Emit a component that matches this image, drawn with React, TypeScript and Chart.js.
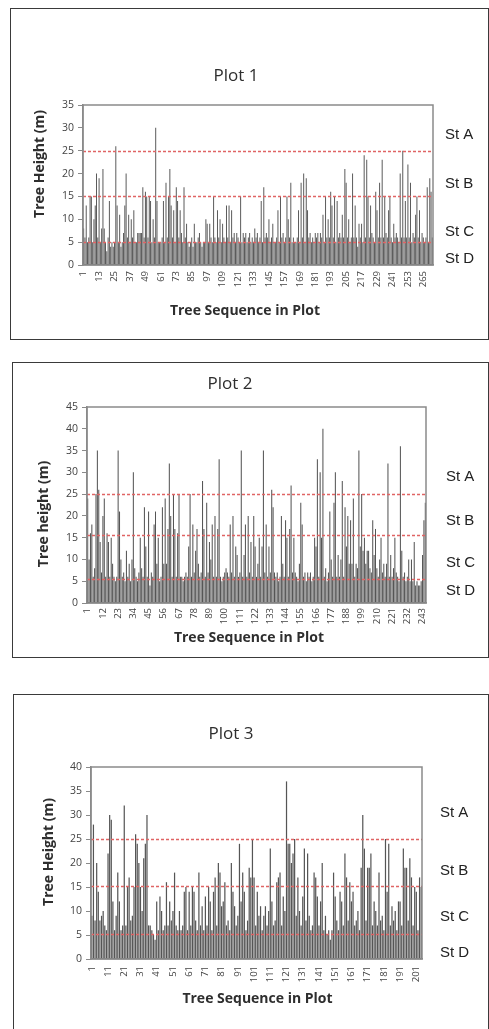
import React, { useEffect, useRef } from "react";
import { Chart, registerables } from "chart.js";

Chart.register(...registerables);

// ---------------- data (tree heights in metres) ----------------
const plot1Heights: number[] = [
  8, 6, 13, 5, 6, 15, 15, 5, 10, 13,
  20, 6, 19, 5, 8, 21, 8, 5, 3, 6,
  14, 4, 5, 4, 5, 26, 13, 5, 11, 4,
  5, 7, 13, 20, 6, 11, 5, 10, 6, 12,
  5, 5, 7, 7, 7, 7, 17, 6, 16, 15,
  6, 15, 14, 5, 10, 6, 30, 14, 5, 5,
  5, 6, 14, 5, 18, 6, 15, 21, 13, 6,
  12, 5, 17, 14, 6, 12, 7, 5, 17, 6,
  9, 5, 4, 5, 6, 4, 9, 5, 5, 6,
  7, 5, 4, 5, 5, 10, 9, 5, 9, 6,
  5, 15, 6, 5, 12, 6, 10, 5, 9, 6,
  5, 13, 6, 13, 5, 12, 6, 7, 5, 7,
  6, 5, 15, 5, 7, 6, 7, 5, 6, 7,
  5, 6, 5, 8, 6, 7, 5, 6, 14, 5,
  17, 6, 7, 6, 10, 5, 6, 9, 5, 5,
  6, 12, 5, 15, 6, 7, 5, 6, 15, 10,
  6, 18, 5, 6, 5, 5, 6, 12, 5, 18,
  6, 20, 5, 19, 12, 6, 7, 5, 6, 5,
  7, 6, 7, 5, 7, 6, 11, 5, 15, 6,
  10, 6, 16, 13, 6, 15, 5, 14, 6, 7,
  6, 11, 6, 21, 18, 6, 10, 5, 6, 20,
  6, 13, 6, 4, 9, 6, 9, 5, 24, 6,
  23, 15, 6, 13, 7, 6, 5, 16, 12, 6,
  18, 6, 23, 6, 15, 7, 6, 12, 15, 6,
  5, 9, 6, 7, 6, 5, 20, 6, 25, 6,
  14, 6, 22, 6, 18, 5, 7, 6, 11, 15,
  6, 12, 5, 7, 6, 5, 6, 17, 5, 19,
  16, 6,
];

const plot2Heights: number[] = [
  24, 10, 16, 18, 6, 8, 25, 35, 26, 14,
  7, 20, 24, 6, 16, 14, 6, 15, 9, 6,
  5, 6, 35, 21, 10, 6, 7, 5, 12, 6,
  9, 5, 10, 30, 8, 6, 5, 7, 15, 8,
  6, 22, 13, 6, 21, 4, 7, 6, 18, 21,
  9, 15, 5, 6, 22, 9, 24, 9, 17, 32,
  20, 6, 25, 17, 6, 16, 25, 6, 6, 5,
  6, 7, 6, 13, 25, 6, 18, 7, 12, 17,
  9, 6, 7, 28, 17, 6, 23, 7, 14, 10,
  18, 6, 20, 6, 17, 33, 6, 5, 6, 7,
  8, 7, 6, 18, 7, 20, 6, 13, 11, 6,
  7, 35, 6, 11, 18, 6, 20, 7, 14, 6,
  20, 13, 6, 9, 15, 6, 13, 35, 7, 18,
  6, 13, 7, 26, 22, 7, 6, 7, 5, 6,
  20, 9, 6, 19, 15, 6, 17, 27, 7, 15,
  7, 6, 5, 9, 23, 18, 6, 7, 5, 7,
  6, 7, 5, 6, 15, 13, 33, 6, 30, 15,
  40, 6, 8, 5, 7, 21, 10, 6, 23, 30,
  6, 11, 6, 10, 28, 6, 22, 13, 20, 9,
  19, 9, 24, 6, 9, 8, 35, 13, 25, 12,
  15, 9, 12, 12, 8, 7, 19, 11, 17, 8,
  6, 10, 15, 7, 9, 6, 9, 32, 6, 11,
  6, 8, 15, 7, 6, 5, 36, 12, 6, 7,
  5, 6, 10, 5, 10, 5, 14, 4, 5, 4,
  4, 5, 11, 19, 23,
];

const plot3Heights: number[] = [
  9, 28, 8, 20, 14, 8, 9, 10, 7, 6,
  22, 30, 29, 12, 6, 9, 18, 12, 6, 7,
  32, 7, 15, 17, 8, 9, 15, 26, 24, 20,
  15, 10, 21, 24, 30, 7, 7, 6, 5, 4,
  12, 6, 13, 10, 6, 7, 16, 7, 12, 8,
  10, 18, 7, 6, 10, 6, 7, 14, 15, 6,
  14, 7, 15, 14, 8, 6, 18, 7, 11, 6,
  13, 7, 15, 12, 6, 14, 17, 7, 20, 18,
  11, 12, 16, 7, 8, 6, 20, 14, 11, 7,
  9, 24, 12, 18, 14, 6, 8, 19, 17, 25,
  17, 7, 14, 9, 11, 6, 9, 11, 7, 10,
  23, 12, 7, 8, 16, 17, 18, 7, 13, 10,
  37, 24, 24, 20, 22, 25, 9, 17, 10, 7,
  13, 23, 8, 22, 9, 6, 7, 18, 17, 13,
  7, 12, 20, 6, 9, 5, 6, 4, 6, 18,
  13, 8, 6, 14, 12, 7, 22, 17, 8, 16,
  12, 14, 7, 8, 10, 6, 19, 30, 23, 8,
  19, 19, 22, 7, 12, 10, 7, 18, 8, 9,
  6, 25, 14, 24, 7, 11, 8, 10, 6, 12,
  12, 7, 23, 19, 19, 8, 21, 17, 7, 15,
  14, 6, 17, 15,
];

// tick label interval on the x axis
const plot1TickEvery = 12;
const plot2TickEvery = 11;
const plot3TickEvery = 10;

// y axis maxima
const plot1YMax = 35;
const plot2YMax = 45;
const plot3YMax = 40;

// stratum boundaries (dashed red lines), metres
const plot1Strata = [25, 15, 5];
const plot2Strata = [25, 15.6, 5.6];
const plot3Strata = [25, 15.2, 5.3];

// stratum names and the height at which each name sits
const strataLabels = ["St A", "St B", "St C", "St D"];
const plot1LabelAt = [28.4, 17.7, 7.2, 1.3];
const plot2LabelAt = [28.9, 18.8, 9.3, 2.9];
const plot3LabelAt = [30.5, 18.3, 8.8, 1.2];

// ---------------- layout ----------------
type Box = { left: number; top: number; width: number; height: number };
type PanelCfg = {
  title: string;
  yTitle: string;
  xTitle: string;
  heights: number[];
  tickEvery: number;
  yMax: number;
  strata: number[];
  labelAt: number[];
  box: Box;
  canvas: Box;
  area: { left: number; top: number; right: number; bottom: number };
  titlePos: [number, number];
  yTitlePos: [number, number];
  xTitlePos: [number, number];
  stX: number;
  tickPad: number;
};

const panels: PanelCfg[] = [
  {
    title: "Plot 1",
    yTitle: "Tree Height (m)",
    xTitle: "Tree Sequence in Plot",
    heights: plot1Heights,
    tickEvery: plot1TickEvery,
    yMax: plot1YMax,
    strata: plot1Strata,
    labelAt: plot1LabelAt,
    box: { left: 10, top: 8, width: 479, height: 332 },
    canvas: { left: 11, top: 9, width: 475, height: 330 },
    area: { left: 72, top: 96, right: 422, bottom: 256 },
    titlePos: [225, 67],
    yTitlePos: [29.5, 155],
    xTitlePos: [234, 302],
    stX: 434,
    tickPad: 6,
  },
  {
    title: "Plot 2",
    yTitle: "Tree height (m)",
    xTitle: "Tree Sequence in Plot",
    heights: plot2Heights,
    tickEvery: plot2TickEvery,
    yMax: plot2YMax,
    strata: plot2Strata,
    labelAt: plot2LabelAt,
    box: { left: 12, top: 362, width: 477, height: 296 },
    canvas: { left: 13, top: 363, width: 474, height: 294 },
    area: { left: 74, top: 44, right: 413, bottom: 240 },
    titlePos: [217, 21],
    yTitlePos: [31, 151],
    xTitlePos: [236, 275],
    stX: 433,
    tickPad: 5,
  },
  {
    title: "Plot 3",
    yTitle: "Tree Height (m)",
    xTitle: "Tree Sequence in Plot",
    heights: plot3Heights,
    tickEvery: plot3TickEvery,
    yMax: plot3YMax,
    strata: plot3Strata,
    labelAt: plot3LabelAt,
    box: { left: 13, top: 694, width: 476, height: 360 },
    canvas: { left: 14, top: 695, width: 473, height: 334 },
    area: { left: 77, top: 72, right: 408, bottom: 264 },
    titlePos: [217, 39],
    yTitlePos: [35.5, 157],
    xTitlePos: [243.5, 304],
    stX: 426,
    tickPad: 7,
  },
];

const FONT = "'Open Sans', 'DejaVu Sans', sans-serif";

function decorPlugin(cfg: PanelCfg) {
  return {
    id: "decor",
    afterDatasetsDraw(chart: any) {
      const { ctx, chartArea: a, scales } = chart;
      const y = scales.y;
      ctx.save();
      ctx.setLineDash([3, 2]);
      ctx.lineWidth = 1.6;
      ctx.strokeStyle = "#e06464";
      for (const t of cfg.strata) {
        const py = Math.round(y.getPixelForValue(t)) + 0.5;
        ctx.beginPath();
        ctx.moveTo(a.left, py);
        ctx.lineTo(a.right, py);
        ctx.stroke();
      }
      ctx.restore();
    },
    afterDraw(chart: any) {
      const { ctx, chartArea: a, scales } = chart;
      const y = scales.y;
      ctx.save();
      // plot area frame
      ctx.strokeStyle = "#8a8a8a";
      ctx.lineWidth = 1.5;
      ctx.strokeRect(a.left, a.top, a.right - a.left, a.bottom - a.top);

      ctx.fillStyle = "#2e2e2e";
      ctx.textAlign = "center";
      ctx.textBaseline = "middle";
      // title
      ctx.font = `400 17px ${FONT}`;
      ctx.fillText(cfg.title, cfg.titlePos[0], cfg.titlePos[1]);
      // x title
      ctx.font = `700 14px ${FONT}`;
      ctx.fillText(cfg.xTitle, cfg.xTitlePos[0], cfg.xTitlePos[1]);
      // y title
      ctx.save();
      ctx.translate(cfg.yTitlePos[0], cfg.yTitlePos[1]);
      ctx.rotate(-Math.PI / 2);
      ctx.fillText(cfg.yTitle, 0, 0);
      ctx.restore();
      // stratum labels
      ctx.fillStyle = "#222";
      ctx.textAlign = "left";
      ctx.font = `400 15px 'Liberation Sans', Arial, sans-serif`;
      strataLabels.forEach((s, i) => {
        ctx.fillText(s, cfg.stX, y.getPixelForValue(cfg.labelAt[i]));
      });
      ctx.restore();
    },
  };
}

function Panel({ cfg }: { cfg: PanelCfg }) {
  const ref = useRef<HTMLCanvasElement | null>(null);
  useEffect(() => {
    if (!ref.current) return;
    const W = cfg.canvas.width;
    const H = cfg.canvas.height;
    const a = cfg.area;
    const labels = cfg.heights.map((_, i) => String(i + 1));
    const chart = new Chart(ref.current, {
      type: "bar",
      data: {
        labels,
        datasets: [
          {
            data: cfg.heights,
            backgroundColor: "#555555",
            borderWidth: 0,
            barPercentage: 0.75,
            categoryPercentage: 1,
          },
        ],
      },
      options: {
        responsive: false,
        animation: false,
        devicePixelRatio: 1,
        layout: { padding: { left: 0, top: a.top, right: W - a.right, bottom: 0 } },
        plugins: {
          legend: { display: false },
          tooltip: { enabled: false },
          title: { display: false },
        },
        scales: {
          x: {
            grid: { display: false, drawTicks: false },
            border: { display: true, color: "#8a8a8a", width: 1.5 },
            ticks: {
              autoSkip: false,
              minRotation: 90,
              maxRotation: 90,
              padding: cfg.tickPad,
              color: "#444",
              font: { family: FONT, size: 9.5 },
              callback: (_v: any, i: number) => (i % cfg.tickEvery === 0 ? labels[i] : ""),
            },
            afterFit: (s: any) => {
              s.height = H - a.bottom;
              s.paddingLeft = 0;
              s.paddingRight = 0;
            },
          },
          y: {
            min: 0,
            max: cfg.yMax,
            ticks: {
              stepSize: 5,
              padding: 4,
              color: "#444",
              font: { family: FONT, size: 10.5 },
            },
            grid: {
              display: true,
              drawOnChartArea: false,
              drawTicks: true,
              tickLength: 5,
              color: "#8a8a8a",
            },
            border: { display: true, color: "#8a8a8a", width: 1.5 },
            afterFit: (s: any) => {
              s.width = a.left;
              s.paddingTop = 0;
              s.paddingBottom = 0;
            },
          },
        },
      } as any,
      plugins: [decorPlugin(cfg)],
    });
    return () => chart.destroy();
  }, [cfg]);

  return (
    <>
      <div
        style={{
          position: "absolute",
          left: cfg.box.left,
          top: cfg.box.top,
          width: cfg.box.width,
          height: cfg.box.height,
          border: "1.5px solid #3a3a3a",
          boxSizing: "border-box",
        }}
      />
      <canvas
        ref={ref}
        width={cfg.canvas.width}
        height={cfg.canvas.height}
        style={{
          position: "absolute",
          left: cfg.canvas.left,
          top: cfg.canvas.top,
          width: cfg.canvas.width,
          height: cfg.canvas.height,
          display: "block",
        }}
      />
    </>
  );
}

export default function App() {
  return (
    <div
      style={{
        position: "fixed",
        left: 0,
        top: 0,
        width: 489,
        height: 1029,
        overflow: "hidden",
        background: "#fff",
      }}
    >
      {panels.map((p) => (
        <Panel key={p.title} cfg={p} />
      ))}
    </div>
  );
}
